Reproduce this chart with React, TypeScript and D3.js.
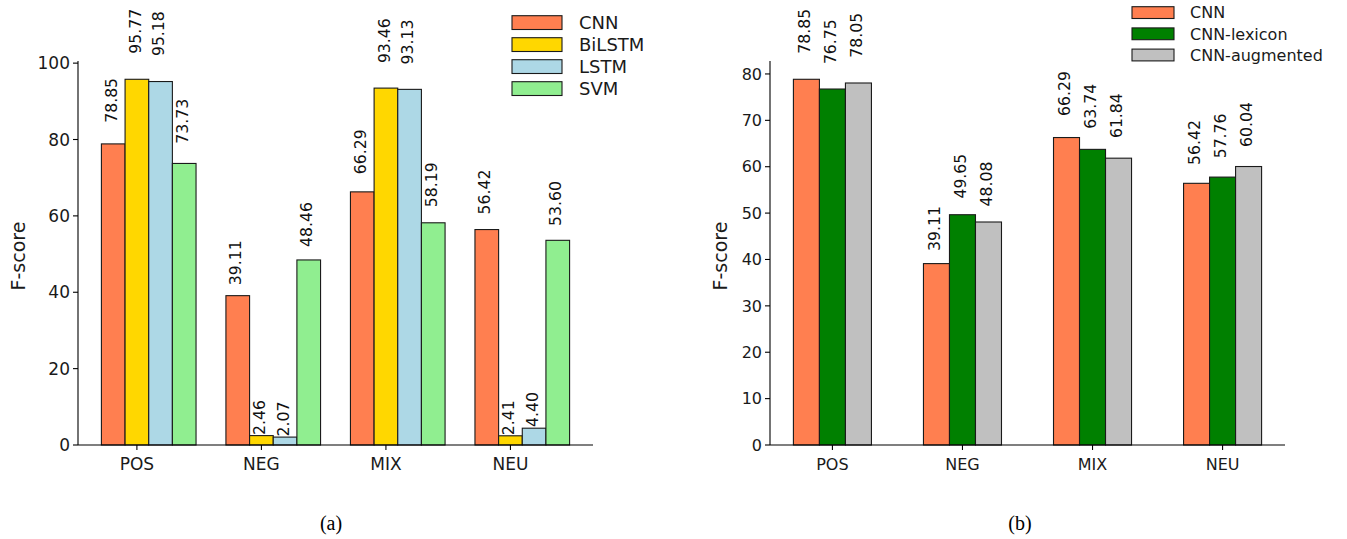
import * as d3 from "d3";

// categories shared by both panels
const categories = ["POS", "NEG", "MIX", "NEU"];

// panel (a)
const seriesA = ["CNN", "BiLSTM", "LSTM", "SVM"];
const colorsA = ["#FF7F50", "#FFD700", "#ADD8E6", "#90EE90"];
const cnnA = [78.85, 39.11, 66.29, 56.42];
const bilstmA = [95.77, 2.46, 93.46, 2.41];
const lstmA = [95.18, 2.07, 93.13, 4.4];
const svmA = [73.73, 48.46, 58.19, 53.6];
const ticksA = [0, 20, 40, 60, 80, 100];

// panel (b)
const seriesB = ["CNN", "CNN-lexicon", "CNN-augmented"];
const colorsB = ["#FF7F50", "#008000", "#C0C0C0"];
const cnnB = [78.85, 39.11, 66.29, 56.42];
const lexiconB = [76.75, 49.65, 63.74, 57.76];
const augmentedB = [78.05, 48.08, 61.84, 60.04];
const ticksB = [0, 10, 20, 30, 40, 50, 60, 70, 80];

const FONT = "DejaVu Sans, sans-serif";

interface PanelProps {
  values: number[][];
  names: string[];
  colors: string[];
  barWidth: number;
  yTicks: number[];
  left: number;
  right: number;
  bottom: number;
  tickFont: number;
  legendFont: number;
  legend: { x: number; y: number; w: number; h: number; step: number; textX: number };
  ylabelX: number;
}

const Panel = ({
  values,
  names,
  colors,
  barWidth,
  yTicks,
  left,
  right,
  bottom,
  tickFont,
  legendFont,
  legend,
  ylabelX,
}: PanelProps) => {
  const n = values.length;
  // matplotlib style: bars at i + (k-1)*w, 5% margins
  const lo = -barWidth - barWidth / 2;
  const hi = categories.length - 1 + (n - 2) * barWidth + barWidth / 2;
  const pad = (hi - lo) * 0.05;
  const x = d3.scaleLinear().domain([lo - pad, hi + pad]).range([left, right]);
  const yMax = d3.max(values.flat())! * 1.05;
  // top spine sits at ~61px in the reference
  const y = d3.scaleLinear().domain([0, yMax]).range([bottom, 61]);

  const bw = x(barWidth) - x(0);
  const labelFont = 15.7;

  return (
    <g>
      {values.map((series, k) =>
        series.map((v, i) => {
          const cx = x(i + (k - 1) * barWidth);
          return (
            <g key={`${k}-${i}`}>
              <rect
                x={cx - bw / 2}
                y={y(v)}
                width={bw}
                height={bottom - y(v)}
                fill={colors[k]}
                stroke="#1a1a1a"
                strokeWidth={1.1}
              />
              <text
                transform={`translate(${cx},${y(v * 1.07)}) rotate(-90)`}
                dy="0.23em"
                fontFamily={FONT}
                fontSize={labelFont}
                fill="#111"
              >
                {v.toFixed(2)}
              </text>
            </g>
          );
        })
      )}
      {/* spines */}
      <line x1={left} x2={left} y1={bottom} y2={y(yMax)} stroke="#000" strokeWidth={1.1} />
      <line x1={left} x2={right} y1={bottom} y2={bottom} stroke="#000" strokeWidth={1.1} />
      {yTicks.map((t) => (
        <g key={t}>
          <line x1={left - 5} x2={left} y1={y(t)} y2={y(t)} stroke="#000" strokeWidth={1.1} />
          <text
            x={left - 8}
            y={y(t)}
            dy="0.36em"
            textAnchor="end"
            fontFamily={FONT}
            fontSize={tickFont}
            fill="#1a1a1a"
          >
            {t}
          </text>
        </g>
      ))}
      {categories.map((c, i) => (
        <g key={c}>
          <line x1={x(i)} x2={x(i)} y1={bottom} y2={bottom + 5} stroke="#000" strokeWidth={1.1} />
          <text
            x={x(i)}
            y={bottom + 25}
            textAnchor="middle"
            fontFamily={FONT}
            fontSize={tickFont}
            fill="#1a1a1a"
          >
            {c}
          </text>
        </g>
      ))}
      <text
        transform={`translate(${ylabelX},256) rotate(-90)`}
        textAnchor="middle"
        dy="0.36em"
        fontFamily={FONT}
        fontSize={19}
        fill="#1a1a1a"
      >
        F-score
      </text>
      {names.map((name, k) => (
        <g key={name}>
          <rect
            x={legend.x}
            y={legend.y + k * legend.step}
            width={legend.w}
            height={legend.h}
            fill={colors[k]}
            stroke="#1a1a1a"
            strokeWidth={1.1}
          />
          <text
            x={legend.textX}
            y={legend.y + k * legend.step + legend.h / 2}
            dy="0.36em"
            fontFamily={FONT}
            fontSize={legendFont}
            fill="#1a1a1a"
          >
            {name}
          </text>
        </g>
      ))}
    </g>
  );
};

const App = () => {
  return (
    <div style={{ position: "absolute", left: 0, top: 0 }}>
      <svg width={1347} height={539} style={{ display: "block", background: "#fff" }}>
        <Panel
          values={[cnnA, bilstmA, lstmA, svmA]}
          names={seriesA}
          colors={colorsA}
          barWidth={0.19}
          yTicks={ticksA}
          left={78}
          right={593}
          bottom={445}
          tickFont={17}
          legendFont={18}
          legend={{ x: 512, y: 15.7, w: 50, h: 13.8, step: 22, textX: 579 }}
          ylabelX={18}
        />
        <Panel
          values={[cnnB, lexiconB, augmentedB]}
          names={seriesB}
          colors={colorsB}
          barWidth={0.2}
          yTicks={ticksB}
          left={770}
          right={1285}
          bottom={445}
          tickFont={16}
          legendFont={16}
          legend={{ x: 1132, y: 6.7, w: 42, h: 11.8, step: 21.2, textX: 1190 }}
          ylabelX={720}
        />
        <text x={331} y={530} textAnchor="middle" fontFamily="Liberation Serif, serif" fontSize={20} fill="#000">
          (a)
        </text>
        <text x={1020} y={530} textAnchor="middle" fontFamily="Liberation Serif, serif" fontSize={20} fill="#000">
          (b)
        </text>
      </svg>
    </div>
  );
};

export default App;
